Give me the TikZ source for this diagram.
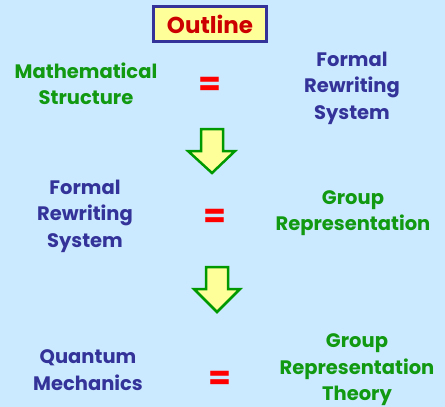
\documentclass[tikz,border=0pt]{standalone}
\usepackage{fontspec}
\setmainfont{Poppins}
\definecolor{bgblue}{RGB}{204,234,255}
\definecolor{txtgreen}{RGB}{17,153,17}
\definecolor{txtblue}{RGB}{51,51,153}
\definecolor{eqred}{RGB}{255,0,0}
\definecolor{boxyellow}{RGB}{255,255,153}
\definecolor{arrowgreen}{RGB}{0,153,0}
\begin{document}
\begin{tikzpicture}[
    x=1pt, y=-1pt,
    term/.style={align=center, font=\fontsize{19.5}{26.5}\selectfont\bfseries, inner sep=0pt},
    green term/.style={term, text=txtgreen},
    blue term/.style={term, text=txtblue},
    equals/.style={text=eqred, font=\fontsize{33}{33}\selectfont\bfseries, inner sep=0pt},
    blockarrow/.style={draw=arrowgreen, fill=boxyellow, line width=2.5pt, line join=miter}
]
    \fill [bgblue] (0,0) rectangle (445,407);
    \useasboundingbox (0,0) rectangle (445,407);

    \node [draw=txtblue, line width=3pt, fill=boxyellow, text=red!80!black, font=\fontsize{23}{23}\selectfont\bfseries,
           minimum width=113pt, minimum height=35pt] (title) at (210,24) {Outline};

    % first row
    \node [green term] (math) at (86,84) {Mathematical\\Structure};
    \node [equals] (eq1) at (210,86) {=};
    \node [blue term] (frs1) at (352,88) {Formal\\Rewriting\\System};

    \draw [blockarrow] (201,129) -- (223,129) -- (223,151) -- (235,151) -- (212,173)
        -- (188,151) -- (201,151) -- cycle;

    % second row
    \node [blue term] (frs2) at (85,216) {Formal\\Rewriting\\System};
    \node [equals] (eq2) at (215,218) {=};
    \node [green term] (grp) at (353,213) {Group\\Representation};

    \draw [blockarrow] (206,267) -- (228,267) -- (228,289) -- (240,289) -- (217,312)
        -- (194,289) -- (206,289) -- cycle;

    % third row
    \node [blue term] (qm) at (88,370) {Quantum\\Mechanics};
    \node [equals] (eq3) at (220,380) {=};
    \node [green term] (grt) at (357,370) {Group\\Representation\\Theory};
\end{tikzpicture}
\end{document}
